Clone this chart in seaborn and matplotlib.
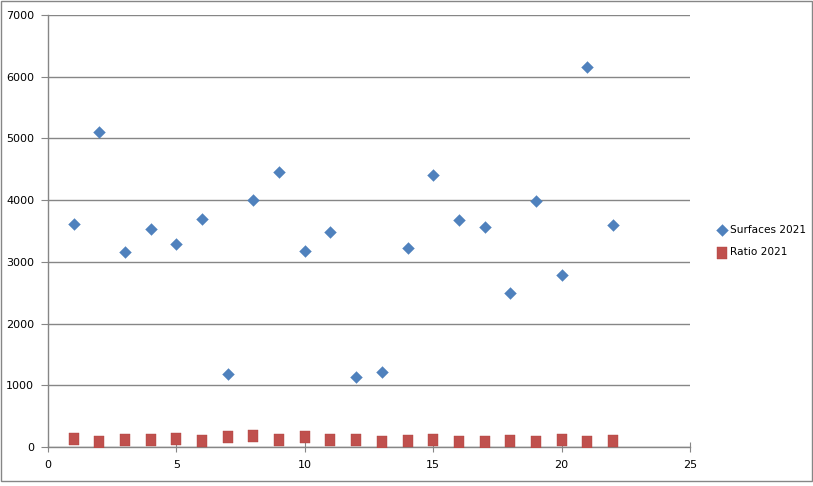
import pandas as pd
import numpy as np
import matplotlib
matplotlib.use("Agg")
import matplotlib.pyplot as plt
import seaborn as sns

# values
x = list(range(1, 23))
surfaces_2021 = [3610, 5110, 3160, 3540, 3290, 3700, 1180, 4010, 4460, 3180, 3490,
                 1130, 1210, 3220, 4400, 3680, 3560, 2490, 3990, 2790, 6160, 3600]
ratio_2021 = [137, 89, 121, 121, 137, 105, 154, 186, 121, 154, 121,
              121, 89, 105, 121, 89, 89, 105, 73, 121, 89, 105]

df = pd.DataFrame({"x": x, "Surfaces 2021": surfaces_2021, "Ratio 2021": ratio_2021})

sns.set_style("white")
plt.rcParams["font.family"] = ["DejaVu Sans"]
plt.rcParams["text.color"] = "black"
plt.rcParams["xtick.labelcolor"] = "black"
plt.rcParams["ytick.labelcolor"] = "black"

fig = plt.figure(figsize=(8.13, 4.86), dpi=100)
ax = fig.add_axes([48 / 813, 39 / 486, 642 / 813, 432 / 486])

grey = "#868686"
blue = "#4F81BD"
red = "#C0504D"

# Excel-like tall square marker
rect = [(-0.4, -0.5), (0.4, -0.5), (0.4, 0.5), (-0.4, 0.5), (-0.4, -0.5)]

sns.scatterplot(data=df, x="x", y="Surfaces 2021", ax=ax, marker="D", s=36,
                color=blue, edgecolor=blue, linewidth=0.3, label="Surfaces 2021", zorder=3)
sns.scatterplot(data=df, x="x", y="Ratio 2021", ax=ax, marker=rect, s=70,
                color=red, edgecolor="#B04540", linewidth=0.3, label="Ratio 2021", zorder=3)

ax.set_xlim(0, 25)
ax.set_ylim(0, 7000)
ax.set_xticks(range(0, 26, 5))
ax.set_yticks(range(0, 7001, 1000))
ax.set_xlabel("")
ax.set_ylabel("")

ax.grid(axis="y", color=grey, linewidth=1)
ax.set_axisbelow(True)
for s in ["top", "right"]:
    ax.spines[s].set_visible(False)
for s in ["left", "bottom"]:
    ax.spines[s].set_color(grey)
    ax.spines[s].set_linewidth(1)

ax.tick_params(axis="x", direction="inout", length=7, color=grey, labelsize=8, pad=6)
ax.tick_params(axis="y", direction="out", length=5, color=grey, labelsize=8, pad=5)
ax.tick_params(left=True, bottom=True)

leg = ax.legend(loc="center left", bbox_to_anchor=(717 / 813, 1 - 241 / 486),
                bbox_transform=fig.transFigure, frameon=False, fontsize=7.6,
                handlelength=1.0, handletextpad=0.2, labelspacing=1.2, borderaxespad=0,
                borderpad=0)

# chart border
fig.patches.append(plt.Rectangle((0.5 / 813, 5 / 486), 811.5 / 813, 480 / 486,
                                 transform=fig.transFigure, fill=False,
                                 edgecolor=grey, linewidth=1))

fig.savefig("out.png", dpi=100)
